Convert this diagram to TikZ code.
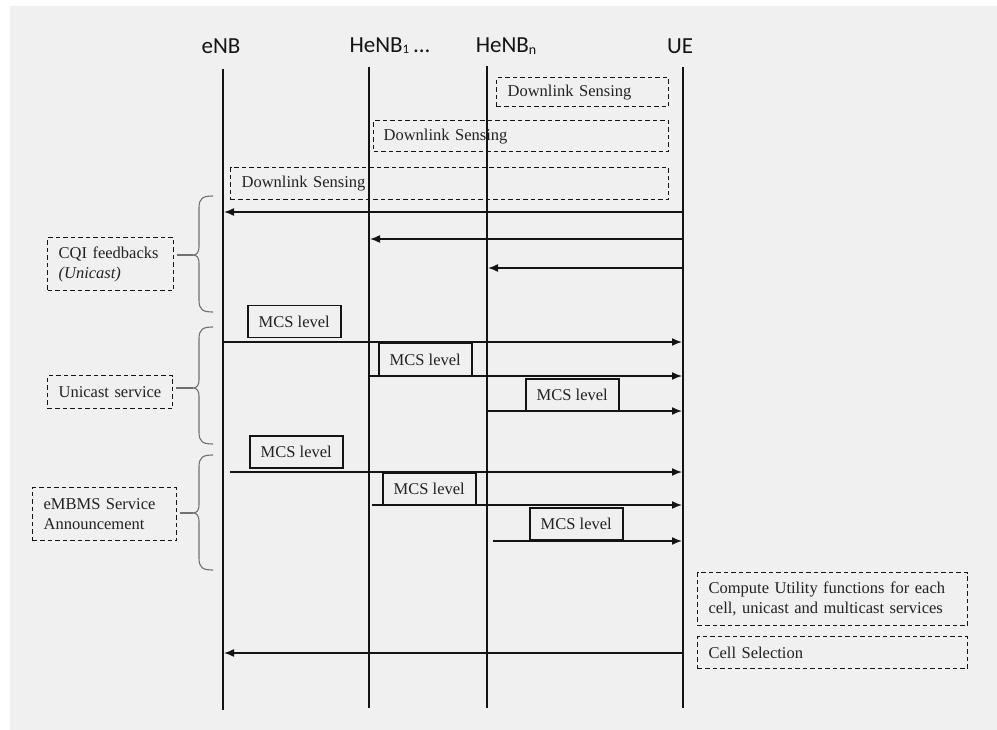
\documentclass[tikz,border=0pt]{standalone}
\usepackage{fontspec}
\setmainfont{Liberation Serif}
\newfontfamily\labfont{Carlito}
\usetikzlibrary{arrows.meta}
\definecolor{bg}{HTML}{F0F0F0}
\definecolor{ink}{HTML}{141414}
\definecolor{txt}{HTML}{222222}
\definecolor{bracec}{HTML}{707070}

% curly brace on the left of the eNB lifeline: #1 top, #2 tip, #3 bottom (y values)
\newcommand{\sidebrace}[3]{%
  \draw[brace] (213,#1) .. controls (203,#1) and (199,#1+2) .. (199,#1+12)
    -- (199,#2-8) .. controls (199,#2-3) and (197,#2) .. (193,#2)
    .. controls (197,#2) and (199,#2+3) .. (199,#2+8)
    -- (199,#3-12) .. controls (199,#3-2) and (203,#3) .. (213,#3);}

\begin{document}
\begin{tikzpicture}[x=1pt,y=-1pt,
  every node/.style={font=\fontsize{16.5}{20}\selectfont, text=txt},
  actor/.style={font=\labfont\fontsize{23}{25}\selectfont, text=ink},
  life/.style={line width=2pt, draw=ink},
  msg/.style={line width=1.5pt, draw=ink, -{Latex[length=10pt,width=8pt]}},
  note/.style={draw=ink, dash pattern=on 4.5pt off 3pt, line width=1.3pt,
    anchor=north west, align=left, inner ysep=0pt, inner xsep=11pt},
  mcs/.style={draw=ink, line width=1.5pt, anchor=north west,
    minimum width=93pt, minimum height=32pt, inner sep=0pt},
  brace/.style={draw=bracec, line width=1.1pt},
]
\useasboundingbox (0,0) rectangle (997,730);
\fill[white] (0,0) rectangle (997,730);
\fill[bg] (10,6) rectangle (997,730);

% actors
\node[actor] (lab-enb) at (221,46) {eNB};
\node[actor] (lab-h1) at (390,46) {HeNB\raisebox{-1pt}{\fontsize{13}{13}\selectfont 1}\,...};
\node[actor] (lab-hn) at (506,46) {HeNB\raisebox{-1.5pt}{\fontsize{14}{14}\selectfont n}};
\node[actor] (lab-ue) at (680,46) {UE};

% lifelines
\coordinate (enbT) at (223,69);  \coordinate (enbB) at (223,710);
\coordinate (h1T)  at (369,67);  \coordinate (h1B)  at (369,708);
\coordinate (hnT)  at (487,66);  \coordinate (hnB)  at (487,708);
\coordinate (ueT)  at (683,67);  \coordinate (ueB)  at (683,708);
\draw[life] (enbT) -- (enbB);
\draw[life] (h1T) -- (h1B);
\draw[life] (hnT) -- (hnB);
\draw[life] (ueT) -- (ueB);

% downlink sensing
\node[note, text width=150pt, minimum height=29pt] (ds1) at (496,77) {Downlink Sensing};
\node[note, text width=275pt, inner xsep=10pt, minimum height=31pt] (ds2) at (373,120) {Downlink Sensing};
\node[note, text width=416pt, minimum height=32pt] (ds3) at (230,167) {Downlink Sensing};

% CQI feedbacks (unicast)
\coordinate (u1) at (683,212); \coordinate (e1) at (224,212);
\coordinate (u2) at (683,239); \coordinate (h12) at (370,239);
\coordinate (u3) at (683,268); \coordinate (hn3) at (488,268);
\draw[msg] (u1) -- (e1);
\draw[msg] (u2) -- (h12);
\draw[msg] (u3) -- (hn3);

% unicast service
\node[mcs] (mA1) at (247,305) {MCS level};
\node[mcs] (mA2) at (378,343) {MCS level};
\node[mcs] (mA3) at (525,378) {MCS level};
\coordinate (e4) at (223,342); \coordinate (u4) at (682,342);
\coordinate (h15) at (368,376); \coordinate (u5) at (682,376);
\coordinate (hn6) at (488,411); \coordinate (u6) at (682,411);
\draw[msg] (e4) -- (u4);
\draw[msg] (h15) -- (u5);
\draw[msg] (hn6) -- (u6);

% eMBMS service announcement
\node[mcs] (mB1) at (249,435) {MCS level};
\node[mcs] (mB2) at (382,472) {MCS level};
\node[mcs] (mB3) at (529,507) {MCS level};
\coordinate (e7) at (230,472); \coordinate (u7) at (682,472);
\coordinate (h18) at (372,505); \coordinate (u8) at (682,505);
\coordinate (hn9) at (493,541); \coordinate (u9) at (682,541);
\draw[msg] (e7) -- (u7);
\draw[msg] (h18) -- (u8);
\draw[msg] (hn9) -- (u9);

% phase labels with braces
\node[note, text width=104pt, minimum height=53pt] (cqi) at (47,237) {CQI feedbacks\\\textit{(Unicast)}};
\node[note, text width=103pt, minimum height=33pt] (uni) at (47,375) {Unicast service};
\node[note, text width=122pt, minimum height=53pt] (mbms) at (32,487) {eMBMS Service\\Announcement};

\sidebrace{196}{255}{312}
\sidebrace{327}{388}{444}
\sidebrace{455}{513}{570}
\coordinate (b1tip) at (193,255);
\coordinate (b2tip) at (193,388);
\coordinate (b3tip) at (193,513);
\draw[brace] ([xshift=3pt]cqi.east |- b1tip) -- (b1tip);
\draw[brace] ([xshift=3pt]uni.east |- b2tip) -- (b2tip);
\draw[brace] ([xshift=3pt]mbms.east |- b3tip) -- (b3tip);

% utility computation and cell selection
\node[note, text width=248pt, minimum height=53pt] (util) at (697,572) {Compute Utility functions for each\\cell, unicast and multicast services};
\node[note, text width=248pt, minimum height=32pt] (sel) at (697,636) {Cell Selection};
\coordinate (u10) at (683,653); \coordinate (e10) at (224,653);
\draw[msg] (u10) -- (e10);
\end{tikzpicture}
\end{document}
